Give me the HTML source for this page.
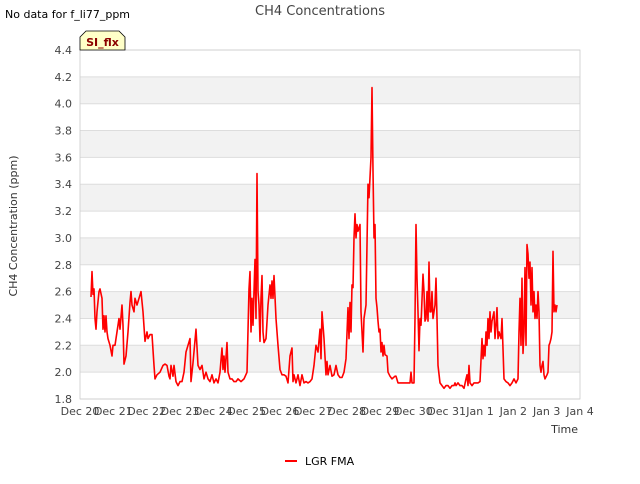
<!DOCTYPE html>
<html><head><meta charset="utf-8"><style>
body{margin:0;background:#fff;font-family:"DejaVu Sans","Liberation Sans",sans-serif;}
svg text{font-family:"DejaVu Sans","Liberation Sans",sans-serif;}
</style></head><body>
<svg id="chart" width="640" height="480" xmlns="http://www.w3.org/2000/svg">
<rect width="640" height="480" fill="#fff"/>
<g id="bands"></g><g id="grid"></g>
<rect x="80" y="50" width="500" height="349" fill="none" stroke="#ccc" stroke-width="0.8"/>
<g id="yticks"></g><g id="xticks"></g>
<g id="series"></g>
<text x="320" y="15" text-anchor="middle" font-size="13" fill="#444">CH4 Concentrations</text>
<text x="5" y="18" font-size="11" fill="#000">No data for f_li77_ppm</text>
<path d="M80,50 L80,37 L86,31 L119,31 L125,37 L125,50 Z" fill="#ffffc8" stroke="#000" stroke-width="0.8"/>
<text x="102.5" y="46" text-anchor="middle" font-size="11" font-weight="bold" fill="#8b0000">SI_flx</text>
<text transform="translate(17,226) rotate(-90)" text-anchor="middle" font-size="11" fill="#333">CH4 Concentration (ppm)</text>
<text x="578" y="433" text-anchor="end" font-size="11" fill="#333">Time</text>
<line x1="285" y1="461" x2="297" y2="461" stroke="#f00" stroke-width="2"/>
<text x="305" y="465" font-size="11" fill="#000">LGR FMA</text>
</svg>
<script>
const yTicks=[1.8,2.0,2.2,2.4,2.6,2.8,3.0,3.2,3.4,3.6,3.8,4.0,4.2,4.4];
const xLabels=["Dec 20","Dec 21","Dec 22","Dec 23","Dec 24","Dec 25","Dec 26","Dec 27","Dec 28","Dec 29","Dec 30","Dec 31","Jan 1","Jan 2","Jan 3","Jan 4"];
const days=[.33,.36,.39,.42,.45,.48,.51,.57,.60,.66,.69,.72,.75,.78,.81,.84,.90,.96,.99,1.05,1.11,1.17,1.20,1.26,1.29,1.32,1.38,1.44,1.50,1.53,1.56,1.62,1.65,1.71,1.77,1.83,1.89,1.95,2.01,2.04,2.10,2.16,2.22,2.25,2.31,2.40,2.49,2.55,2.61,2.67,2.70,2.73,2.79,2.82,2.88,2.94,3.00,3.06,3.12,3.18,3.24,3.30,3.33,3.39,3.48,3.54,3.60,3.66,3.72,3.78,3.84,3.90,3.96,4.02,4.08,4.14,4.20,4.26,4.29,4.32,4.35,4.41,4.44,4.50,4.56,4.62,4.68,4.74,4.83,4.92,5.01,5.07,5.10,5.13,5.16,5.19,5.22,5.25,5.28,5.31,5.34,5.37,5.40,5.43,5.46,5.49,5.52,5.58,5.64,5.70,5.73,5.76,5.79,5.82,5.88,5.94,6.00,6.06,6.12,6.18,6.24,6.30,6.36,6.39,6.42,6.48,6.54,6.60,6.66,6.72,6.78,6.84,6.90,6.96,7.02,7.08,7.14,7.20,7.23,7.26,7.32,7.38,7.41,7.44,7.50,7.56,7.62,7.68,7.74,7.80,7.86,7.92,7.98,8.04,8.07,8.10,8.13,8.16,8.19,8.22,8.25,8.28,8.31,8.34,8.40,8.43,8.49,8.52,8.58,8.61,8.64,8.67,8.73,8.76,8.79,8.82,8.85,8.88,8.91,8.94,8.97,9.00,9.03,9.06,9.09,9.12,9.15,9.21,9.24,9.30,9.36,9.45,9.48,9.54,9.60,9.66,9.72,9.84,9.90,9.93,9.96,10.02,10.05,10.08,10.11,10.14,10.17,10.20,10.23,10.29,10.32,10.35,10.38,10.41,10.44,10.47,10.50,10.53,10.56,10.59,10.65,10.68,10.71,10.74,10.80,10.86,10.92,10.98,11.04,11.10,11.16,11.22,11.25,11.28,11.34,11.40,11.46,11.52,11.58,11.61,11.64,11.67,11.70,11.76,11.82,11.88,11.94,12.00,12.06,12.09,12.12,12.15,12.18,12.21,12.24,12.27,12.30,12.33,12.36,12.42,12.45,12.48,12.51,12.54,12.57,12.63,12.66,12.72,12.78,12.84,12.90,12.96,13.02,13.08,13.14,13.17,13.20,13.23,13.26,13.29,13.32,13.35,13.38,13.41,13.44,13.47,13.50,13.53,13.56,13.59,13.62,13.65,13.68,13.71,13.74,13.77,13.80,13.83,13.86,13.89,13.92,13.95,14.01,14.04,14.07,14.10,14.13,14.16,14.19,14.22,14.25,14.28,14.31];
const ch4=[2.56,2.75,2.58,2.62,2.4,2.32,2.45,2.6,2.62,2.55,2.32,2.42,2.3,2.42,2.3,2.25,2.2,2.12,2.2,2.2,2.3,2.4,2.32,2.5,2.35,2.06,2.12,2.3,2.52,2.6,2.5,2.45,2.55,2.5,2.55,2.6,2.45,2.23,2.3,2.25,2.28,2.28,2.05,1.95,1.98,2.0,2.05,2.06,2.05,1.97,1.95,2.05,1.97,2.05,1.93,1.9,1.93,1.93,2.0,2.15,2.2,2.25,1.93,2.07,2.32,2.05,2.02,2.05,1.95,2.0,1.95,1.93,1.98,1.92,1.95,1.92,2.0,2.18,2.02,2.12,2.0,2.22,2.0,1.95,1.95,1.93,1.93,1.95,1.93,1.95,2.0,2.62,2.75,2.3,2.55,2.35,2.6,2.84,2.4,3.48,2.6,2.5,2.23,2.55,2.72,2.3,2.22,2.25,2.5,2.65,2.55,2.68,2.55,2.72,2.4,2.2,2.02,1.98,1.98,1.97,1.92,2.12,2.18,1.93,1.98,1.92,1.98,1.9,1.98,1.92,1.93,1.92,1.93,1.95,2.05,2.2,2.15,2.32,2.1,2.45,2.25,1.98,2.08,1.98,2.05,1.97,1.98,2.05,1.98,1.96,1.96,2.0,2.1,2.48,2.25,2.52,2.3,2.65,2.63,3.0,3.18,3.0,3.1,3.05,3.1,2.45,2.15,2.4,2.5,2.95,3.4,3.3,3.6,4.12,3.5,3.0,3.1,2.55,2.48,2.38,2.3,2.32,2.15,2.22,2.12,2.2,2.13,2.12,2.0,1.97,1.95,1.97,1.97,1.92,1.92,1.92,1.92,1.92,1.92,2.0,1.92,1.92,2.4,3.1,2.7,2.45,2.16,2.4,2.35,2.73,2.6,2.38,2.4,2.6,2.38,2.82,2.45,2.45,2.6,2.4,2.5,2.7,2.4,2.05,1.92,1.9,1.88,1.9,1.9,1.88,1.9,1.9,1.92,1.9,1.92,1.9,1.9,1.88,1.95,1.98,1.9,2.05,1.92,1.9,1.92,1.92,1.92,1.93,2.25,2.1,2.2,2.12,2.3,2.2,2.4,2.25,2.45,2.3,2.38,2.45,2.25,2.35,2.48,2.25,2.3,2.25,2.4,1.95,1.93,1.92,1.9,1.92,1.95,1.92,1.95,2.3,2.55,2.2,2.7,2.14,2.3,2.78,2.2,2.95,2.88,2.7,2.82,2.5,2.78,2.45,2.6,2.4,2.5,2.4,2.6,2.45,2.05,2.0,2.05,2.08,1.98,1.95,1.98,2.0,2.2,2.22,2.25,2.3,2.9,2.45,2.5,2.45,2.5];
const NS="http://www.w3.org/2000/svg";
const X0=80,X1=580,Y0=399,Y1=50,YMIN=1.8,YMAX=4.4,DMAX=15;
function xs(d){return X0+(X1-X0)*d/DMAX;}
function ys(v){return Y0-(Y0-Y1)*(v-YMIN)/(YMAX-YMIN);}
function mk(tag,attrs,parent){const e=document.createElementNS(NS,tag);for(const k in attrs)e.setAttribute(k,attrs[k]);document.getElementById(parent).appendChild(e);return e;}
for(let i=0;i<yTicks.length;i++){
  const v=yTicks[i];
  if(i<yTicks.length-1 && Math.round(v*10)%4===0){
    const b=mk('rect',{x:X0,y:ys(yTicks[i+1]),width:X1-X0,height:ys(v)-ys(yTicks[i+1]),fill:'#f2f2f2'},'bands');
    
    
  }
  const g=mk('line',{x1:X0,x2:X1,y1:ys(v),y2:ys(v),stroke:'#ddd','stroke-width':1},'grid');
  
  
  const t=mk('text',{x:72,y:ys(v)+4,'text-anchor':'end','font-size':11,fill:'#444'},'yticks');
  t.textContent=v.toFixed(1);
  
  
}
xLabels.forEach((l,i)=>{
  const t=mk('text',{x:xs(i),y:415,'text-anchor':'middle','font-size':11,fill:'#444'},'xticks');
  t.textContent=l;
  
  
});
let d='';
for(let i=0;i<days.length;i++){d+=(i?'L':'M')+xs(days[i]).toFixed(1)+','+ys(ch4[i]).toFixed(1);}
const p=mk('path',{d:d,fill:'none',stroke:'#f00','stroke-width':1.6,'stroke-linejoin':'round'},'series');


</script>
</body></html>
